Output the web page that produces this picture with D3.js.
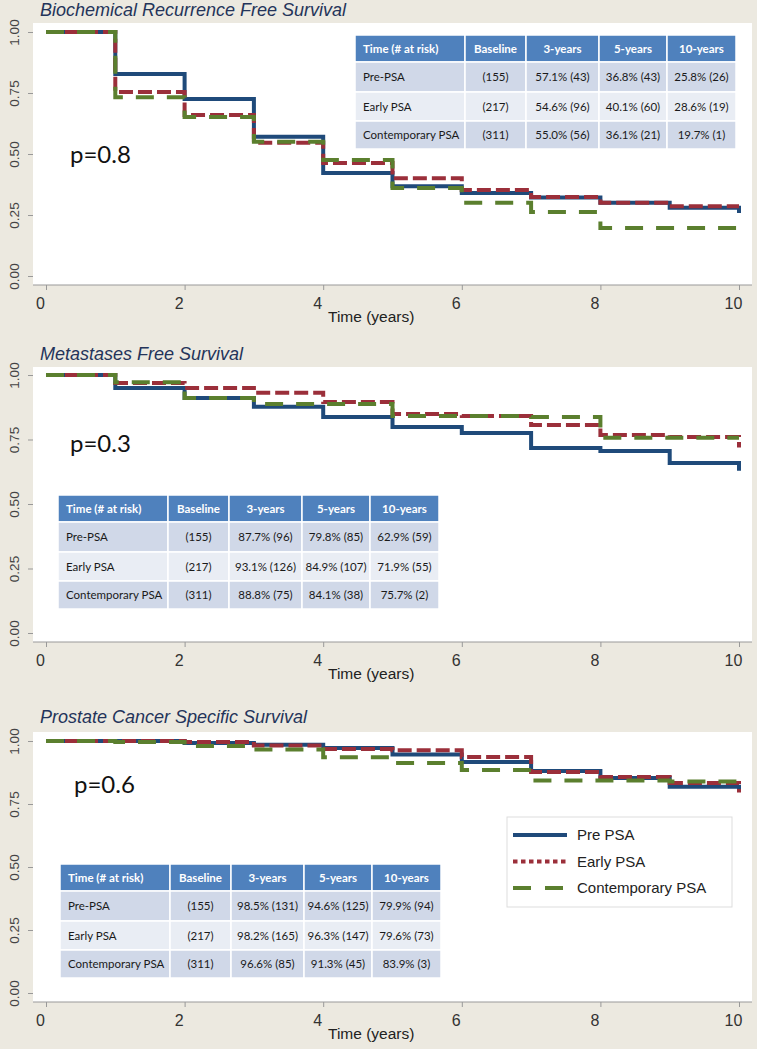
<!DOCTYPE html>
<html>
<head>
<meta charset="utf-8">
<script src="https://cdn.jsdelivr.net/npm/d3@7/dist/d3.min.js"></script>
<style>
  html, body { margin: 0; padding: 0; background: #ECE9E0; }
  svg { display: block; }
</style>
</head>
<body>
<svg id="chart"></svg>
<script>
// survival at start of each year interval [i, i+1); last value = drop at 10 years
var years = [0, 1, 2, 3, 4, 5, 6, 7, 8, 9, 10];

var bcrPre   = [1, 0.828, 0.725, 0.571, 0.422, 0.368, 0.340, 0.322, 0.300, 0.280, 0.258];
var bcrEarly = [1, 0.754, 0.660, 0.546, 0.463, 0.401, 0.352, 0.324, 0.300, 0.286, 0.286];
var bcrCont  = [1, 0.733, 0.652, 0.550, 0.475, 0.361, 0.300, 0.262, 0.197, 0.197, 0.197];

var mfsPre   = [1, 0.950, 0.911, 0.877, 0.837, 0.798, 0.775, 0.717, 0.705, 0.659, 0.629];
var mfsEarly = [1, 0.969, 0.950, 0.931, 0.895, 0.849, 0.841, 0.806, 0.767, 0.760, 0.719];
var mfsCont  = [1, 0.972, 0.911, 0.888, 0.888, 0.841, 0.841, 0.837, 0.757, 0.757, 0.757];

var pcsPre   = [1, 1, 0.992, 0.985, 0.972, 0.946, 0.917, 0.881, 0.853, 0.818, 0.799];
var pcsEarly = [1, 1, 0.996, 0.982, 0.968, 0.963, 0.937, 0.877, 0.857, 0.833, 0.796];
var pcsCont  = [1, 0.996, 0.980, 0.966, 0.936, 0.913, 0.885, 0.843, 0.843, 0.839, 0.839];

var xTicks = [0, 2, 4, 6, 8, 10];
var yTicks = [0, 0.25, 0.5, 0.75, 1];

var seriesNames = ['Pre PSA', 'Early PSA', 'Contemporary PSA'];

// tables
var tableHead = ['Time (# at risk)', 'Baseline', '3-years', '5-years', '10-years'];
var groups = ['Pre-PSA', 'Early PSA', 'Contemporary PSA'];
var baseline = ['(155)', '(217)', '(311)'];
var bcrTable = [['57.1% (43)', '36.8% (43)', '25.8% (26)'],
                ['54.6% (96)', '40.1% (60)', '28.6% (19)'],
                ['55.0% (56)', '36.1% (21)', '19.7% (1)']];
var mfsTable = [['87.7% (96)', '79.8% (85)', '62.9% (59)'],
                ['93.1% (126)', '84.9% (107)', '71.9% (55)'],
                ['88.8% (75)', '84.1% (38)', '75.7% (2)']];
var pcsTable = [['98.5% (131)', '94.6% (125)', '79.9% (94)'],
                ['98.2% (165)', '96.3% (147)', '79.6% (73)'],
                ['96.6% (85)', '91.3% (45)', '83.9% (3)']];

var W = 757, H = 1049;
var colors = ['#1F4A7A', '#9B2F3A', '#5B7F2E'];
var dashes = [null, '14,5', '18,13'];
var legendDashes = [null, '4.5,3.5', '18,14'];

var svg = d3.select('#chart').attr('width', W).attr('height', H);
svg.append('rect').attr('width', W).attr('height', H).attr('fill', '#ECE9E0');

var x = d3.scaleLinear().domain([0, 10]).range([46, 739]);

var panels = [
    { title: 'Biochemical Recurrence Free Survival', series: [bcrPre, bcrEarly, bcrCont], table: bcrTable,
      top: 23, bottom: 285, y1: 32, y0: 276, titleY: 16, p: 'p=0.8', px: 70, py: 163, tx: 355, ty: 35 },
    { title: 'Metastases Free Survival', series: [mfsPre, mfsEarly, mfsCont], table: mfsTable,
      top: 367, bottom: 642, y1: 375, y0: 633, titleY: 360, p: 'p=0.3', px: 70, py: 452, tx: 58, ty: 495 },
    { title: 'Prostate Cancer Specific Survival', series: [pcsPre, pcsEarly, pcsCont], table: pcsTable,
      top: 732, bottom: 1002, y1: 741, y0: 993, titleY: 723, p: 'p=0.6', px: 74, py: 793, tx: 60, ty: 864 }
];

panels.forEach(function (pn) {
    var g = svg.append('g');
    var y = d3.scaleLinear().domain([0, 1]).range([pn.y0, pn.y1]);

    g.append('rect').attr('x', 33).attr('y', pn.top).attr('width', 752 - 33)
        .attr('height', pn.bottom - pn.top).attr('fill', '#fff');

    g.append('text').attr('x', 40).attr('y', pn.titleY)
        .attr('font-family', 'Liberation Sans, Arial, sans-serif').attr('font-style', 'italic')
        .attr('font-size', 18).attr('fill', '#24345A').text(pn.title);

    // y axis
    var ya = g.append('g').attr('transform', 'translate(33,0)')
        .call(d3.axisLeft(y).tickValues(yTicks).tickFormat(d3.format('.2f')).tickSize(5));
    ya.select('.domain').remove();
    ya.selectAll('line').attr('stroke', '#999');
    ya.selectAll('text').attr('transform', 'rotate(-90)').attr('x', 0).attr('y', -14).attr('dy', 0)
        .attr('text-anchor', 'middle').attr('font-family', 'Liberation Sans, Arial, sans-serif')
        .attr('font-size', 13.5).attr('fill', '#444');

    // x axis
    var xa = g.append('g').attr('transform', 'translate(0,' + pn.bottom + ')')
        .call(d3.axisBottom(x).tickValues(xTicks).tickSize(5));
    xa.select('.domain').remove();
    xa.append('line').attr('x1', 33).attr('x2', 752).attr('stroke', '#aaa');
    xa.selectAll('line').attr('stroke', '#999');
    xa.selectAll('text').attr('y', 24).attr('dy', 0).attr('dx', -6)
        .attr('font-family', 'Liberation Sans, Arial, sans-serif').attr('font-size', 16).attr('fill', '#333');

    g.append('text').attr('x', 328).attr('y', pn.bottom + 37)
        .attr('font-family', 'Liberation Sans, Arial, sans-serif').attr('font-size', 15.5)
        .attr('fill', '#222').text('Time (years)');

    // table
    var colW = [110, 61, 73, 68, 69];
    var rowH = [27, 30, 29, 28];
    var tg = g.append('g').attr('transform', 'translate(' + pn.tx + ',' + pn.ty + ')');
    var cells = [tableHead];
    groups.forEach(function (gr, i) {
        cells.push([gr, baseline[i]].concat(pn.table[i]));
    });
    var yy = 0;
    cells.forEach(function (row, r) {
        var xx = 0;
        row.forEach(function (c, j) {
            var fill = r === 0 ? '#4F81BD' : (r % 2 === 1 ? '#D0D8E8' : '#E9EDF4');
            tg.append('rect').attr('x', xx).attr('y', yy).attr('width', colW[j]).attr('height', rowH[r])
                .attr('fill', fill).attr('stroke', '#fff').attr('stroke-width', 1.5);
            tg.append('text')
                .attr('x', j === 0 ? xx + 8 : xx + colW[j] / 2)
                .attr('y', yy + rowH[r] / 2 + 4)
                .attr('text-anchor', j === 0 ? 'start' : 'middle')
                .attr('font-family', 'Lato, sans-serif').attr('font-size', 11.5)
                .attr('font-weight', r === 0 ? 'bold' : 'normal')
                .attr('fill', r === 0 ? '#fff' : '#1a1a1a').text(c);
            xx += colW[j];
        });
        yy += rowH[r];
    });

    // curves
    var line = d3.line().x(function (d, i) { return x(years[i]); })
        .y(function (d) { return y(d); }).curve(d3.curveStepAfter);
    pn.series.forEach(function (s, i) {
        g.append('path').datum(s).attr('d', line).attr('fill', 'none')
            .attr('stroke', colors[i]).attr('stroke-width', 4)
            .attr('stroke-dasharray', dashes[i]);
    });

    g.append('text').attr('x', pn.px).attr('y', pn.py)
        .attr('font-family', 'Lato, sans-serif').attr('font-size', 24).attr('fill', '#111').text(pn.p);
});

// legend in last panel
var lg = svg.append('g').attr('transform', 'translate(507,817)');
lg.append('rect').attr('width', 225).attr('height', 90).attr('fill', '#fff').attr('stroke', '#ddd');
seriesNames.forEach(function (n, i) {
    var cy = 18 + i * 26.5;
    lg.append('line').attr('x1', 6).attr('x2', 60).attr('y1', cy).attr('y2', cy)
        .attr('stroke', colors[i]).attr('stroke-width', 4).attr('stroke-dasharray', legendDashes[i]);
    lg.append('text').attr('x', 70).attr('y', cy + 5).attr('font-family', 'Liberation Sans, Arial, sans-serif')
        .attr('font-size', 15).attr('fill', '#222').text(n);
});
</script>
</body>
</html>
